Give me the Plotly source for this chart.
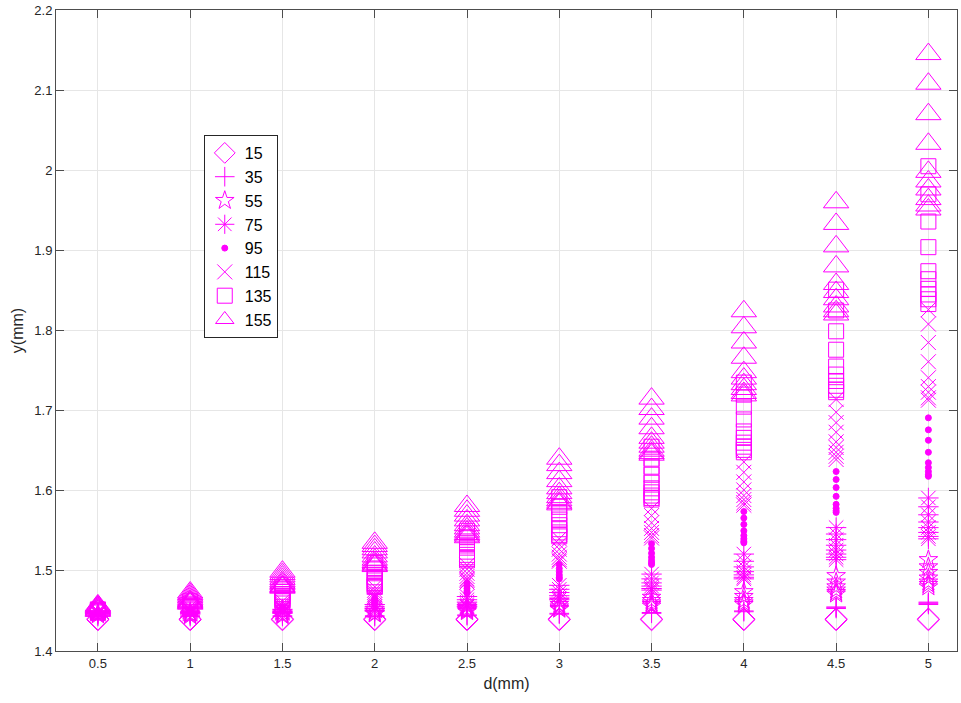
import plotly.graph_objects as go

d_values = [0.5, 1, 1.5, 2, 2.5, 3, 3.5, 4, 4.5, 5]
series_labels = ["15", "35", "55", "75", "95", "115", "135", "155"]

y_15 = [
    [1.440, 1.439], [1.440, 1.439], [1.440, 1.439], [1.440, 1.439], [1.440, 1.439],
    [1.440, 1.439], [1.440, 1.439], [1.440, 1.439], [1.440, 1.439], [1.440, 1.439],
]
y_35 = [
    [1.444, 1.443], [1.444, 1.443], [1.444, 1.443], [1.444, 1.443], [1.445, 1.444],
    [1.447, 1.446], [1.448, 1.447], [1.450, 1.449], [1.455, 1.454, 1.453],
    [1.461, 1.460, 1.459, 1.458],
]
y_55 = [
    [1.447, 1.446, 1.445],
    [1.447, 1.446, 1.445, 1.444],
    [1.448, 1.446, 1.445, 1.444],
    [1.452, 1.449, 1.447, 1.446],
    [1.456, 1.453, 1.451, 1.450, 1.449],
    [1.462, 1.458, 1.455, 1.453, 1.452],
    [1.467, 1.463, 1.460, 1.458, 1.456],
    [1.474, 1.468, 1.463, 1.460, 1.458],
    [1.494, 1.486, 1.480, 1.476, 1.473, 1.471],
    [1.514, 1.505, 1.498, 1.491, 1.486, 1.483, 1.480],
]
y_75 = [
    [1.448, 1.447, 1.446],
    [1.449, 1.448, 1.447, 1.446],
    [1.452, 1.450, 1.449, 1.448, 1.447],
    [1.458, 1.455, 1.453, 1.451, 1.450],
    [1.468, 1.464, 1.461, 1.458, 1.456, 1.455],
    [1.482, 1.477, 1.473, 1.469, 1.466, 1.464],
    [1.496, 1.490, 1.485, 1.481, 1.478, 1.476],
    [1.521, 1.512, 1.505, 1.499, 1.495, 1.492, 1.490],
    [1.554, 1.546, 1.539, 1.532, 1.526, 1.521, 1.517, 1.514],
    [1.591, 1.580, 1.570, 1.561, 1.554, 1.548, 1.543, 1.540],
]
y_95 = [
    [1.449, 1.448, 1.447],
    [1.451, 1.450, 1.449, 1.448],
    [1.455, 1.453, 1.452, 1.451, 1.450],
    [1.466, 1.464, 1.462, 1.460, 1.459],
    [1.485, 1.481, 1.478, 1.475, 1.473, 1.472],
    [1.508, 1.503, 1.499, 1.495, 1.492, 1.490],
    [1.534, 1.528, 1.522, 1.517, 1.513, 1.510, 1.508],
    [1.574, 1.566, 1.558, 1.550, 1.544, 1.540, 1.537, 1.535],
    [1.624, 1.614, 1.604, 1.593, 1.583, 1.578, 1.575, 1.573],
    [1.691, 1.676, 1.663, 1.648, 1.635, 1.629, 1.624, 1.620, 1.618],
]
y_115 = [
    [1.450, 1.449, 1.448, 1.447],
    [1.455, 1.453, 1.452, 1.451, 1.450],
    [1.462, 1.459, 1.457, 1.455, 1.454, 1.453],
    [1.480, 1.476, 1.473, 1.470, 1.468, 1.466],
    [1.507, 1.502, 1.497, 1.493, 1.490, 1.488, 1.486],
    [1.540, 1.533, 1.527, 1.521, 1.517, 1.514, 1.512],
    [1.578, 1.569, 1.560, 1.553, 1.548, 1.544, 1.541],
    [1.636, 1.623, 1.611, 1.601, 1.594, 1.589, 1.585, 1.582],
    [1.714, 1.698, 1.685, 1.673, 1.661, 1.654, 1.648, 1.643, 1.639],
    [1.826, 1.808, 1.785, 1.761, 1.741, 1.730, 1.723, 1.716, 1.713],
]
y_135 = [
    [1.452, 1.451, 1.450, 1.449, 1.448],
    [1.462, 1.459, 1.457, 1.456, 1.455, 1.454],
    [1.478, 1.474, 1.471, 1.468, 1.466, 1.464, 1.463, 1.462],
    [1.510, 1.503, 1.497, 1.492, 1.488, 1.485, 1.483, 1.481, 1.480],
    [1.550, 1.542, 1.535, 1.529, 1.524, 1.520, 1.517, 1.515, 1.513],
    [1.592, 1.580, 1.572, 1.564, 1.557, 1.552, 1.548, 1.545, 1.543],
    [1.655, 1.640, 1.630, 1.620, 1.610, 1.603, 1.598, 1.594, 1.591, 1.589],
    [1.735, 1.720, 1.705, 1.689, 1.674, 1.666, 1.660, 1.655, 1.651, 1.648],
    [1.851, 1.825, 1.799, 1.776, 1.755, 1.745, 1.737, 1.731, 1.726, 1.723],
    [2.005, 1.970, 1.936, 1.904, 1.874, 1.864, 1.852, 1.845, 1.839, 1.833],
]
y_155 = [
    [1.457, 1.456, 1.455, 1.454, 1.453, 1.452, 1.451, 1.450],
    [1.473, 1.471, 1.469, 1.467, 1.465, 1.463, 1.462, 1.461, 1.460, 1.459],
    [1.499, 1.496, 1.493, 1.490, 1.487, 1.485, 1.483, 1.481, 1.480, 1.479],
    [1.535, 1.531, 1.527, 1.523, 1.518, 1.514, 1.511, 1.509, 1.507, 1.506],
    [1.581, 1.575, 1.569, 1.563, 1.557, 1.553, 1.549, 1.546, 1.544, 1.542],
    [1.640, 1.632, 1.622, 1.612, 1.603, 1.597, 1.592, 1.588, 1.585, 1.583],
    [1.715, 1.702, 1.690, 1.678, 1.666, 1.660, 1.655, 1.650, 1.647, 1.645],
    [1.824, 1.804, 1.785, 1.766, 1.748, 1.740, 1.733, 1.727, 1.722, 1.719],
    [1.960, 1.933, 1.905, 1.880, 1.858, 1.848, 1.839, 1.830, 1.824, 1.820],
    [2.145, 2.108, 2.070, 2.033, 1.998, 1.986, 1.976, 1.964, 1.956, 1.951],
]

y_ticks = [1.4, 1.5, 1.6, 1.7, 1.8, 1.9, 2.0, 2.1, 2.2]
y_ticktext = ["1.4", "1.5", "1.6", "1.7", "1.8", "1.9", "2", "2.1", "2.2"]
x_ticktext = ["0.5", "1", "1.5", "2", "2.5", "3", "3.5", "4", "4.5", "5"]

all_series = [y_15, y_35, y_55, y_75, y_95, y_115, y_135, y_155]
symbols = ["diamond-open", "cross-thin-open", "star-open", "asterisk-open",
           "circle", "x-thin-open", "square-open", "triangle-up-open"]
sizes = [17, 14, 14, 17, 6, 15, 15, 22]

MAG = "#FF00FF"
fig = go.Figure()
for label, data, sym, sz in zip(series_labels, all_series, symbols, sizes):
    xs, ys = [], []
    for d, col in zip(d_values, data):
        for v in col:
            xs.append(d)
            ys.append(v)
    fig.add_trace(go.Scatter(
        x=xs, y=ys, mode="markers", name=label,
        marker=dict(symbol=sym, size=sz, color=MAG,
                    line=dict(color=MAG, width=1)),
    ))

axis_common = dict(
    showline=True, linecolor="#4d4d4d", linewidth=1, mirror="ticks",
    ticks="inside", ticklen=8, tickcolor="#4d4d4d",
    showgrid=True, gridcolor="#e6e6e6", gridwidth=1, zeroline=False,
    automargin=False, ticklabeloverflow="allow",
    tickfont=dict(family="Liberation Sans, Arial", size=13, color="#262626"),
)

fig.update_layout(
    width=961, height=703,
    margin=dict(l=56, r=4, t=10, b=52, autoexpand=False),
    paper_bgcolor="white", plot_bgcolor="white",
    font=dict(family="Liberation Sans, Arial", color="#262626"),
    xaxis=dict(range=[0.273, 5.155], tickvals=d_values, ticktext=x_ticktext,
               title=dict(text="d(mm)", font=dict(size=16), standoff=8),
               **axis_common),
    yaxis=dict(range=[1.4, 2.2], tickvals=y_ticks, ticktext=y_ticktext,
               title=dict(text="y(mm)", font=dict(size=16), standoff=6),
               **axis_common),
    legend=dict(x=0.164, y=0.805, xanchor="left", yanchor="top",
                bgcolor="white", bordercolor="#262626", borderwidth=1,
                font=dict(family="Liberation Sans, Arial", size=16, color="black"),
                tracegroupgap=0),
    showlegend=True,
)

fig.write_html("out.html", config={"displayModeBar": False},
               post_script="document.body.style.margin='0';")
